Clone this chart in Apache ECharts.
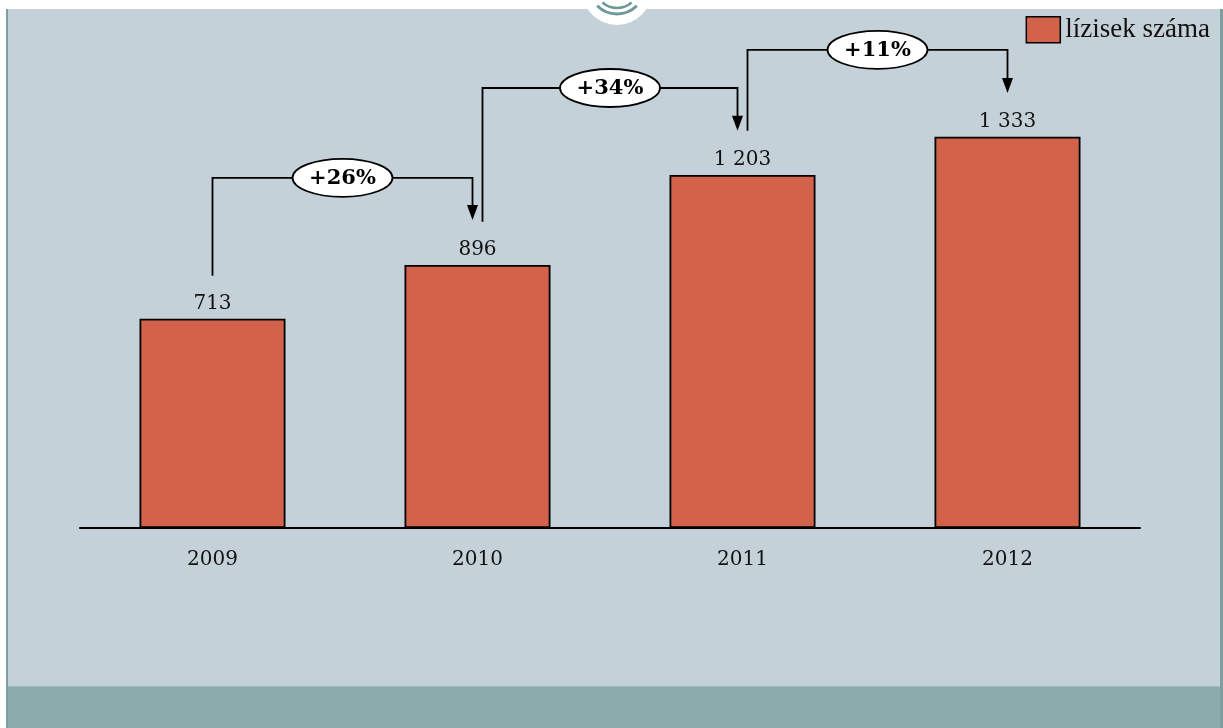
<!DOCTYPE html>
<html>
<head>
<meta charset="utf-8">
<script src="https://cdn.jsdelivr.net/npm/echarts@6/dist/echarts.min.js"></script>
<style>
html,body{margin:0;padding:0;background:#ffffff;}
#chart{width:1223px;height:728px;}
</style>
</head>
<body>
<div id="chart"></div>
<script>
const categories = ['2009', '2010', '2011', '2012'];
const values = [713, 896, 1203, 1333];
const seriesName = 'lízisek száma';
const changeLabels = ['+26%', '+34%', '+11%'];
const bracketStart = [859, 1043, 1353];
const bracketTop = [1193, 1499, 1629];
const arrowTip = [1049, 1353, 1482];

const bracketData = changeLabels.map(function (lab, i) {
  return [i, bracketStart[i], bracketTop[i], arrowTip[i], lab];
});

function fmt(v) {
  return String(v).replace(/\B(?=(\d{3})+(?!\d))/g, ' ');
}

const chart = echarts.init(document.getElementById('chart'));
const option = {
  backgroundColor: '#ffffff',
  animation: false,
  graphic: [
    { type: 'rect', z: -10, silent: true, shape: { x: 7, y: 9, width: 1215, height: 677 }, style: { fill: '#c5d1d8' } },
    { type: 'rect', z: -10, silent: true, shape: { x: 7, y: 686, width: 1215, height: 42 }, style: { fill: '#8aacac' } },
    { type: 'rect', z: -9, silent: true, shape: { x: 7, y: 686, width: 1215, height: 1 }, style: { fill: '#9db9b9' } },
    { type: 'rect', z: -9, silent: true, shape: { x: 6, y: 9, width: 2, height: 719 }, style: { fill: '#7f9e9e' } },
    { type: 'rect', z: -9, silent: true, shape: { x: 1220, y: 9, width: 3, height: 719 }, style: { fill: '#7f9e9e' } },
    { type: 'circle', z: -8, silent: true, shape: { cx: 617, cy: -10, r: 35 }, style: { fill: '#ffffff' } },
    { type: 'arc', z: -7, silent: true, shape: { cx: 617, cy: -14, r: 28, startAngle: Math.PI * 0.25, endAngle: Math.PI * 0.75 }, style: { stroke: '#6f9898', lineWidth: 3, fill: null } },
    { type: 'arc', z: -7, silent: true, shape: { cx: 617, cy: -14, r: 22, startAngle: Math.PI * 0.27, endAngle: Math.PI * 0.73 }, style: { stroke: '#6f9898', lineWidth: 2.5, fill: null } }
  ],
  legend: {
    data: [{ name: seriesName, icon: 'rect' }],
    right: 8,
    top: 11,
    itemWidth: 34,
    itemHeight: 26,
    itemGap: 4,
    textStyle: { fontFamily: 'Liberation Serif', fontSize: 27, color: '#111' },
    itemStyle: { borderColor: '#000', borderWidth: 1.5 }
  },
  grid: { left: 80, right: 83, top: 29, bottom: 200 },
  xAxis: {
    type: 'category',
    data: categories,
    axisLine: { lineStyle: { color: '#000', width: 2 } },
    axisTick: { show: false },
    axisLabel: { margin: 22, fontFamily: 'DejaVu Serif', fontSize: 20, color: '#111' }
  },
  yAxis: {
    type: 'value',
    min: 0,
    max: 1700,
    show: false,
    splitLine: { show: false }
  },
  series: [
    {
      name: seriesName,
      type: 'bar',
      data: values,
      barWidth: 146,
      itemStyle: { color: '#d2634a', borderColor: '#000', borderWidth: 1.8 },
      label: {
        show: true,
        position: 'top',
        distance: 5,
        fontFamily: 'DejaVu Serif',
        fontSize: 20,
        color: '#111',
        formatter: function (p) { return fmt(p.value); }
      }
    },
    {
      name: 'changes',
      type: 'custom',
      coordinateSystem: 'cartesian2d',
      clip: false,
      silent: true,
      z: 5,
      data: bracketData,
      encode: { x: 0, y: 2 },
      renderItem: function (params, api) {
        const i = api.value(0);
        const from = api.coord([i, api.value(1)]);
        const top = api.coord([i, api.value(2)]);
        const to = api.coord([i + 1, api.value(3)]);
        const x0 = from[0] + (i === 0 ? 0 : 5);
        const x1 = to[0] + (i === 2 ? 0 : -5);
        const y0 = from[1];
        const yt = top[1];
        const ytip = to[1];
        const cx = (x0 + x1) / 2;
        const lab = bracketData[params.dataIndex][4];
        return {
          type: 'group',
          children: [
            { type: 'polyline', shape: { points: [[x0, y0], [x0, yt], [x1, yt], [x1, ytip - 12]] }, style: { stroke: '#000', lineWidth: 1.8, fill: null } },
            { type: 'polygon', shape: { points: [[x1 - 5.5, ytip - 15], [x1 + 5.5, ytip - 15], [x1, ytip]] }, style: { fill: '#000' } },
            { type: 'ellipse', shape: { cx: cx, cy: yt, rx: 50, ry: 19 }, style: { fill: '#ffffff', stroke: '#000', lineWidth: 1.8 } },
            { type: 'text', x: cx, y: yt + 1, style: { text: lab, fill: '#000', font: 'bold 21px "DejaVu Serif"', align: 'center', verticalAlign: 'middle' } }
          ]
        };
      }
    }
  ]
};
chart.setOption(option);
</script>
</body>
</html>
